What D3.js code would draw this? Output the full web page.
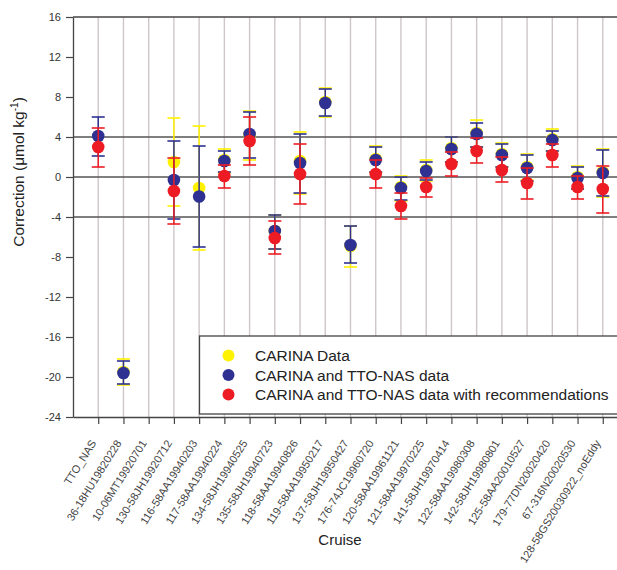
<html>
<head>
<meta charset="utf-8">
<script src="https://d3js.org/d3.v7.min.js"></script>
<style>
body { margin: 0; background: #fff; }
svg { font-family: "Liberation Sans", Arial, sans-serif; }
</style>
</head>
<body>
<div id="root"></div>
<script>
// cruises along the x axis
var cruises = ["TTO_NAS", "36-18HU19820228", "10-06MT19920701", "130-58JH19920712",
  "116-58AA19940203", "117-58AA19940224", "134-58JH19940525", "135-58JH19940723",
  "118-58AA19940826", "119-58AA19950217", "137-58JH19950427", "176-74JC19960720",
  "120-58AA19961121", "121-58AA19970225", "141-58JH19970414", "122-58AA19980308",
  "142-58JH19980801", "125-58AA20010527", "179-77DN20020420", "67-316N20020530",
  "128-58GS20030922_noEddy"];

// CARINA Data: [value, low, high]
var carina = [null, [-19.5, -20.8, -18.2], null, [1.5, -2.9, 5.9],
  [-1.1, -7.3, 5.1], [1.7, 0.4, 2.8], [4.2, 1.7, 6.6], [-5.4, -7.2, -3.8],
  [1.6, -1.7, 4.5], [7.5, 6.0, 8.9], [-6.9, -9.0, -4.9], [1.8, 0.4, 3.1],
  [-1.0, -2.4, 0.1], [0.7, -0.4, 1.7], [2.9, 1.5, 4.0], [4.4, 3.0, 5.7],
  [2.3, 1.0, 3.4], [1.0, -0.3, 2.3], [3.8, 2.6, 4.8], [0.0, -1.2, 1.1],
  [0.5, -2.0, 2.8]];

// CARINA and TTO-NAS data
var ttoNas = [[4.1, 2.1, 6.0], [-19.6, -20.7, -18.4], null, [-0.3, -4.2, 3.6],
  [-1.95, -7.0, 3.1], [1.6, 0.5, 2.6], [4.3, 1.9, 6.5], [-5.4, -7.2, -3.8],
  [1.4, -1.6, 4.3], [7.4, 6.1, 8.8], [-6.8, -8.6, -4.9], [1.7, 0.5, 3.0],
  [-1.1, -2.3, 0.0], [0.6, -0.3, 1.5], [2.8, 1.5, 4.0], [4.3, 3.0, 5.4],
  [2.2, 1.0, 3.3], [0.9, -0.4, 2.2], [3.7, 2.6, 4.6], [-0.1, -1.2, 1.0],
  [0.4, -1.9, 2.7]];

// CARINA and TTO-NAS data with recommendations
var recommended = [[3.0, 1.0, 4.9], null, null, [-1.4, -4.7, 1.9],
  null, [0.1, -1.1, 1.2], [3.6, 1.2, 6.0], [-6.1, -7.7, -4.4],
  [0.3, -2.7, 3.3], null, null, [0.3, -1.1, 1.7],
  [-2.9, -4.2, -1.6], [-1.0, -2.0, -0.1], [1.3, 0.1, 2.5], [2.6, 1.4, 3.9],
  [0.7, -0.5, 2.0], [-0.6, -2.2, 0.9], [2.2, 1.0, 3.3], [-1.0, -2.2, 0.1],
  [-1.2, -3.6, 1.1]];

var yTicks = [16, 12, 8, 4, 0, -4, -8, -12, -16, -20, -24];
var refLines = [4, 0, -4];

var series = [
  {name: "CARINA Data", values: carina, color: "#fff200"},
  {name: "CARINA and TTO-NAS data", values: ttoNas, color: "#2e3192"},
  {name: "CARINA and TTO-NAS data with recommendations", values: recommended, color: "#ed1c24"}
];

var width = 617, height = 570;
var plotLeft = 73, plotTop = 17, plotBottom = 417, plotRight = 628;

var svg = d3.select("#root").append("svg")
  .attr("width", width)
  .attr("height", height);

var x = d3.scalePoint()
  .domain(cruises)
  .range([plotLeft, plotRight])
  .padding(1);

var y = d3.scaleLinear()
  .domain([-24, 16])
  .range([plotBottom, plotTop]);

/* vertical grid at each cruise */
svg.append("g").selectAll("line")
  .data(cruises).enter()
  .append("line")
  .attr("x1", d => x(d)).attr("x2", d => x(d))
  .attr("y1", plotTop).attr("y2", plotBottom)
  .attr("stroke", "#cfc6c7")
  .attr("stroke-width", 1.4);

/* horizontal lines at +4, 0, -4 */
svg.append("g").selectAll("line")
  .data(refLines).enter()
  .append("line")
  .attr("x1", plotLeft).attr("x2", width)
  .attr("y1", d => y(d)).attr("y2", d => y(d))
  .attr("stroke", "#555")
  .attr("stroke-width", 1.3);

/* frame top */
svg.append("line")
  .attr("x1", plotLeft).attr("x2", width)
  .attr("y1", y(16)).attr("y2", y(16))
  .attr("stroke", "#444").attr("stroke-width", 1.3);

/* axes */
var yAxis = svg.append("g")
  .attr("transform", `translate(${plotLeft},0)`)
  .call(d3.axisLeft(y).tickValues(yTicks).tickFormat(d => String(d))
    .tickSize(7).tickSizeOuter(0).tickPadding(5));
yAxis.select(".domain").attr("stroke", "#444").attr("stroke-width", 1.3);
yAxis.selectAll(".tick line").attr("stroke", "#444").attr("stroke-width", 1.2);
yAxis.selectAll(".tick text").attr("font-size", "11px").attr("fill", "#333")
  .attr("font-family", "'Liberation Sans', Arial, sans-serif");

var xAxis = svg.append("g")
  .attr("transform", `translate(0,${plotBottom})`)
  .call(d3.axisBottom(x).tickSize(7).tickSizeOuter(0));
xAxis.select(".domain").attr("stroke", "#444").attr("stroke-width", 1.3);
xAxis.selectAll(".tick line").attr("stroke", "#444").attr("stroke-width", 1.2);
xAxis.selectAll(".tick text")
  .attr("font-size", "11px")
  .attr("font-family", "'Liberation Sans', Arial, sans-serif")
  .attr("fill", "#444")
  .attr("text-anchor", "end")
  .attr("dy", null)
  .attr("y", null)
  .attr("transform", "translate(-2,26) rotate(-58)");

/* error bars and points, one group per series */
series.forEach(function(s) {
  var pts = s.values.map((v, i) => v ? {c: cruises[i], v: v[0], lo: v[1], hi: v[2]} : null)
    .filter(d => d);
  var g = svg.append("g");
  g.selectAll(".stem").data(pts).enter()
    .append("line")
    .attr("x1", d => x(d.c)).attr("x2", d => x(d.c))
    .attr("y1", d => y(d.lo)).attr("y2", d => y(d.hi))
    .attr("stroke", s.color).attr("stroke-width", 1.5);
  ["lo", "hi"].forEach(function(k) {
    g.selectAll(".cap-" + k).data(pts).enter()
      .append("line")
      .attr("x1", d => x(d.c) - 6.5).attr("x2", d => x(d.c) + 6.5)
      .attr("y1", d => y(d[k])).attr("y2", d => y(d[k]))
      .attr("stroke", s.color).attr("stroke-width", 1.6);
  });
  g.selectAll("circle").data(pts).enter()
    .append("circle")
    .attr("cx", d => x(d.c))
    .attr("cy", d => y(d.v))
    .attr("r", 6.3)
    .attr("fill", s.color);
});

/* legend */
var legend = svg.append("g");
legend.append("rect")
  .attr("x", 199.5).attr("y", 336)
  .attr("width", 440).attr("height", 78)
  .attr("fill", "#fff")
  .attr("stroke", "#444").attr("stroke-width", 1.3);
series.forEach(function(s, i) {
  var ly = 355.5 + i * 19.5;
  legend.append("circle")
    .attr("cx", 228.5).attr("cy", ly).attr("r", 6)
    .attr("fill", s.color);
  legend.append("text")
    .attr("x", 255).attr("y", ly + 5.5)
    .attr("font-size", "15.5px")
    .attr("fill", "#222")
    .text(s.name);
});

/* axis titles */
var yt = svg.append("text")
  .attr("transform", "translate(24,172) rotate(-90)")
  .attr("text-anchor", "middle")
  .attr("font-size", "15.5px")
  .attr("fill", "#222");
yt.append("tspan").text("Correction (\u03bcmol kg");
yt.append("tspan").attr("font-size", "10px").attr("dy", -6).text("-1");
yt.append("tspan").attr("dy", 6).text(")");

svg.append("text")
  .attr("x", 340).attr("y", 545)
  .attr("text-anchor", "middle")
  .attr("font-size", "15px")
  .attr("fill", "#222")
  .text("Cruise");
</script>
</body>
</html>
